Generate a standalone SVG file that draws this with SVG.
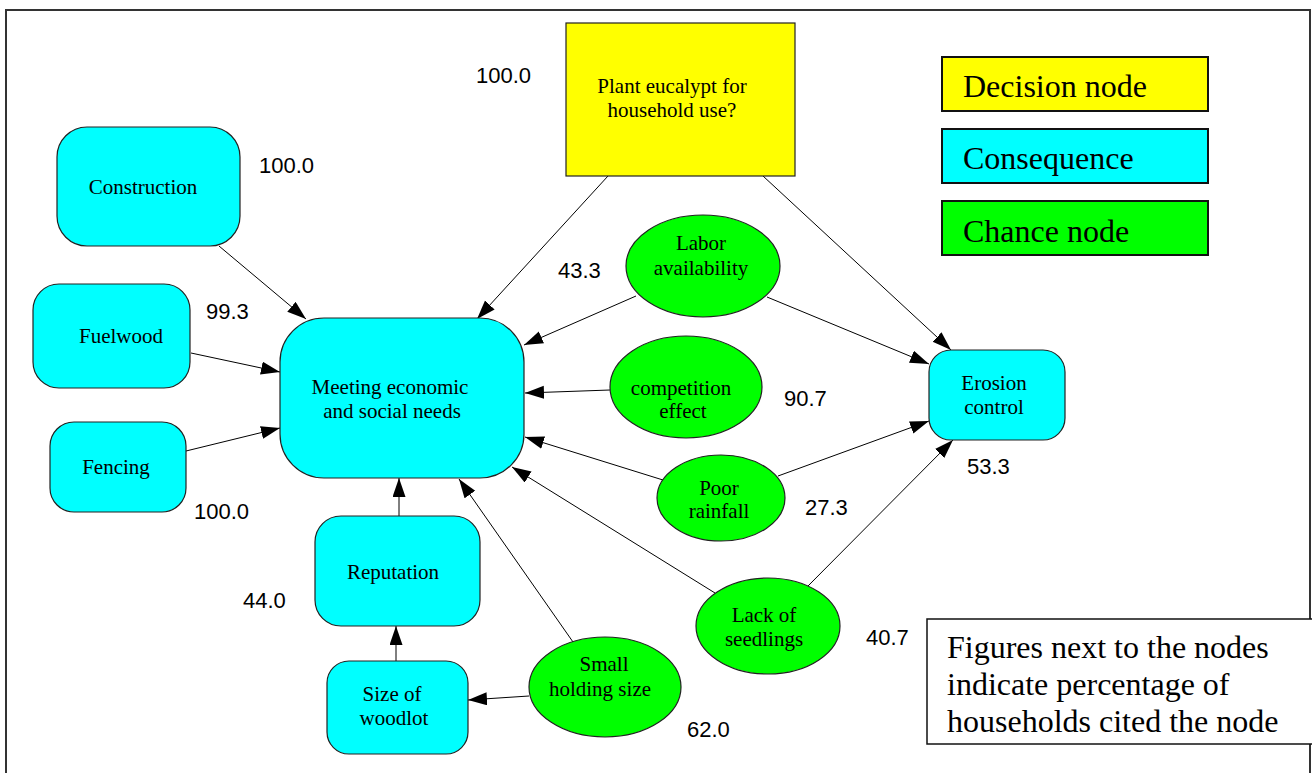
<svg xmlns="http://www.w3.org/2000/svg" width="1312" height="773" viewBox="0 0 1312 773">
  <style>
    .cons { fill: #00ffff; stroke: #222; stroke-width: 1.2; }
    .chance { fill: #00ff00; stroke: #222; stroke-width: 1.2; }
    .dec { fill: #ffff00; stroke: #222; stroke-width: 1.2; }
    .lbl { font-size: 21px; fill: #000; text-anchor: middle; }
    .pct { font-size: 22px; fill: #000; }
    .leg { font-size: 32px; fill: #000; }
    .edge { stroke: #000; stroke-width: 1; fill: none; marker-end: url(#arrow); }
  </style>
  <defs>
    <marker id="arrow" markerUnits="userSpaceOnUse" markerWidth="20" markerHeight="14" refX="19" refY="6.5" orient="auto">
      <path d="M0,0 L19,6.5 L0,13 z" fill="#000"/>
    </marker>
  </defs>

  <rect x="0" y="0" width="1312" height="773" fill="#fff"/>
  <!-- frame -->
  <rect x="6" y="10" width="1304" height="775" fill="none" stroke="#333" stroke-width="2"/>

  <!-- connectors -->
  <g id="connectors">
    <line class="edge" x1="219" y1="246" x2="306" y2="319"/>
    <line class="edge" x1="191" y1="353" x2="280" y2="372"/>
    <line class="edge" x1="186" y1="451" x2="280" y2="428"/>
    <line class="edge" x1="608" y1="176" x2="477" y2="319"/>
    <line class="edge" x1="763" y1="176" x2="951" y2="350"/>
    <line class="edge" x1="636" y1="296" x2="524" y2="345"/>
    <line class="edge" x1="767" y1="297" x2="929" y2="364"/>
    <line class="edge" x1="610" y1="390" x2="525" y2="393"/>
    <line class="edge" x1="663" y1="480" x2="525" y2="437"/>
    <line class="edge" x1="778" y1="476" x2="929" y2="421"/>
    <line class="edge" x1="715" y1="593" x2="512" y2="467"/>
    <line class="edge" x1="808" y1="586" x2="953" y2="440"/>
    <line class="edge" x1="573" y1="642" x2="459" y2="479"/>
    <line class="edge" x1="529" y1="696" x2="468" y2="700"/>
    <line class="edge" x1="399" y1="516" x2="399" y2="478"/>
    <line class="edge" x1="396" y1="661" x2="396" y2="626"/>
  </g>

  <g font-family="Liberation Serif, Times New Roman, serif">
  <!-- decision -->
  <g id="decision">
    <rect class="dec" x="566" y="23" width="229" height="153"/>
    <text class="lbl" x="672" y="93">Plant eucalypt for</text>
    <text class="lbl" x="672" y="117">household use?</text>
  </g>

  <g id="construction">
    <rect class="cons" x="57" y="127" width="183" height="119" rx="30" ry="30"/>
    <text class="lbl" x="143" y="194">Construction</text>
  </g>

  <g id="fuelwood">
    <rect class="cons" x="33" y="284" width="157" height="104" rx="26" ry="26"/>
    <text class="lbl" x="121" y="343">Fuelwood</text>
  </g>

  <g id="fencing">
    <rect class="cons" x="50" y="422" width="136" height="90" rx="24" ry="24"/>
    <text class="lbl" x="116" y="474">Fencing</text>
  </g>

  <g id="meeting">
    <rect class="cons" x="280" y="318" width="244" height="160" rx="44" ry="44"/>
    <text class="lbl" x="390" y="394">Meeting economic</text>
    <text class="lbl" x="392" y="418">and social needs</text>
  </g>

  <g id="reputation">
    <rect class="cons" x="315" y="516" width="165" height="110" rx="26" ry="26"/>
    <text class="lbl" x="393" y="579">Reputation</text>
  </g>

  <g id="woodlot">
    <rect class="cons" x="327" y="661" width="141" height="93" rx="22" ry="22"/>
    <text class="lbl" x="392" y="701">Size of</text>
    <text class="lbl" x="394" y="725">woodlot</text>
  </g>

  <g id="labor">
    <ellipse class="chance" cx="703" cy="266" rx="77" ry="51"/>
    <text class="lbl" x="701" y="250">Labor</text>
    <text class="lbl" x="701" y="275">availability</text>
  </g>

  <g id="competition">
    <ellipse class="chance" cx="686" cy="387" rx="76" ry="51"/>
    <text class="lbl" x="681" y="395">competition</text>
    <text class="lbl" x="683" y="418">effect</text>
  </g>

  <g id="rainfall">
    <ellipse class="chance" cx="721" cy="498" rx="64" ry="43"/>
    <text class="lbl" x="719" y="495">Poor</text>
    <text class="lbl" x="719" y="518">rainfall</text>
  </g>

  <g id="seedlings">
    <ellipse class="chance" cx="768" cy="626" rx="72" ry="48"/>
    <text class="lbl" x="764" y="622">Lack of</text>
    <text class="lbl" x="764" y="646">seedlings</text>
  </g>

  <g id="holding">
    <ellipse class="chance" cx="605" cy="687" rx="76" ry="50"/>
    <text class="lbl" x="604" y="671">Small</text>
    <text class="lbl" x="600" y="696">holding size</text>
  </g>

  <g id="erosion">
    <rect class="cons" x="929" y="350" width="136" height="90" rx="22" ry="22"/>
    <text class="lbl" x="994" y="390">Erosion</text>
    <text class="lbl" x="994" y="414">control</text>
  </g>

  <!-- legend -->
  <g id="legend">
    <rect x="942" y="57" width="266" height="54" fill="#ffff00" stroke="#111" stroke-width="2"/>
    <text class="leg" x="963" y="97">Decision node</text>
    <rect x="942" y="129" width="266" height="54" fill="#00ffff" stroke="#111" stroke-width="2"/>
    <text class="leg" x="963" y="169">Consequence</text>
    <rect x="942" y="201" width="266" height="54" fill="#00ff00" stroke="#111" stroke-width="2"/>
    <text class="leg" x="963" y="242">Chance node</text>
  </g>

  <g id="note">
    <rect x="927" y="619" width="390" height="125" fill="#fff" stroke="#111" stroke-width="1.5"/>
    <text class="leg" x="947" y="658">Figures next to the nodes</text>
    <text class="leg" x="947" y="695">indicate percentage of</text>
    <text class="leg" x="947" y="732">households cited the node</text>
  </g>
  </g>

  <!-- percentages -->
  <g id="percentages" font-family="Liberation Sans, Arial, sans-serif">
    <text class="pct" x="476" y="83">100.0</text>
    <text class="pct" x="259" y="173">100.0</text>
    <text class="pct" x="206" y="319">99.3</text>
    <text class="pct" x="194" y="519">100.0</text>
    <text class="pct" x="243" y="608">44.0</text>
    <text class="pct" x="558" y="278">43.3</text>
    <text class="pct" x="784" y="406">90.7</text>
    <text class="pct" x="805" y="515">27.3</text>
    <text class="pct" x="866" y="645">40.7</text>
    <text class="pct" x="687" y="737">62.0</text>
    <text class="pct" x="967" y="474">53.3</text>
  </g>
</svg>
